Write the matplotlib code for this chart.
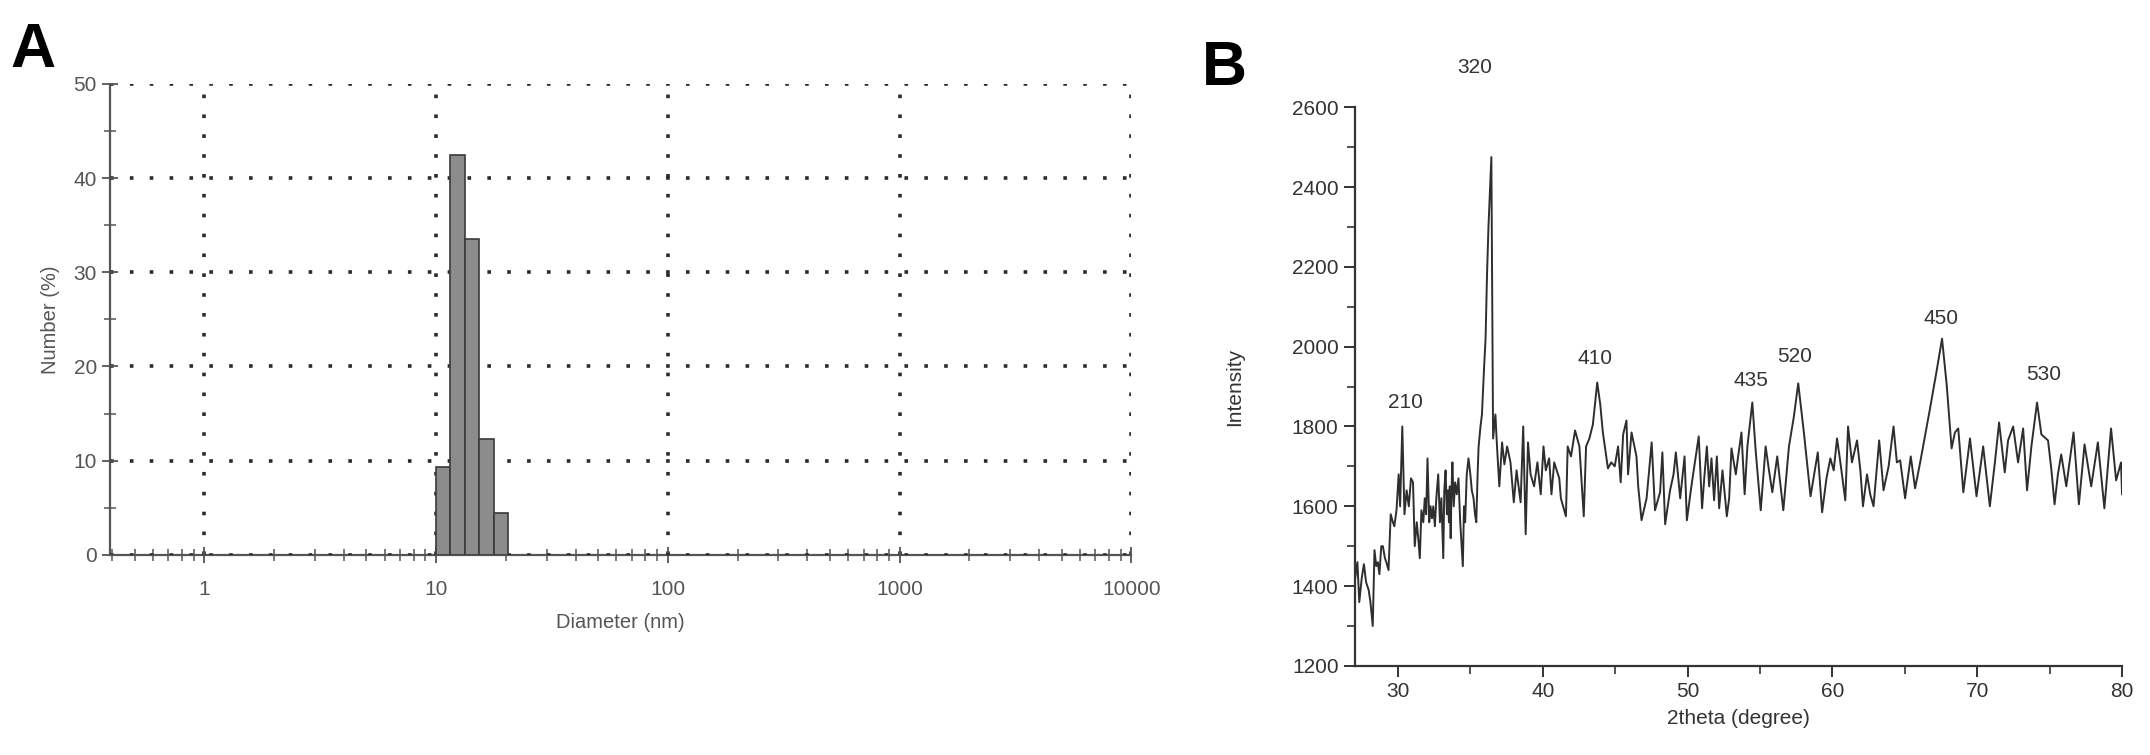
import matplotlib
matplotlib.use('Agg')
import matplotlib.pyplot as plt
from matplotlib.ticker import FixedLocator, NullFormatter, MultipleLocator

plt.rcParams['font.family'] = ['Liberation Sans', 'DejaVu Sans']

# ---- panel A: size distribution ----
bin_edges = [10, 11.5, 13.3, 15.3, 17.7, 20.5]
number_pct = [9.3, 42.4, 33.5, 12.3, 4.4]

# ---- panel B: XRD pattern (vertices) ----
two_theta = [
    27.05, 27.2, 27.33, 27.5, 27.65, 27.8, 27.98, 28.1, 28.26, 28.38,
    28.5, 28.61, 28.72, 28.85, 28.96, 29.1, 29.2, 29.35, 29.5, 29.65,
    29.75, 29.9, 30.05, 30.15, 30.3, 30.45, 30.6, 30.75, 30.9, 31.04,
    31.16, 31.3, 31.4, 31.51, 31.62, 31.75, 31.85, 31.95, 32.04, 32.16,
    32.25, 32.35, 32.44, 32.55, 32.65, 32.78, 32.9, 33.0, 33.13, 33.2,
    33.29, 33.38, 33.45, 33.52, 33.58, 33.64, 33.7, 33.76, 33.85, 33.95,
    34.06, 34.18, 34.3, 34.4, 34.48, 34.56, 34.64, 34.75, 34.87, 35.0,
    35.1, 35.22, 35.32, 35.41, 35.5, 35.57, 35.7, 35.8, 35.95, 36.05,
    36.15, 36.25, 36.35, 36.45, 36.57, 36.73, 36.84, 37.0, 37.19, 37.35,
    37.54, 37.77, 38.0, 38.19, 38.47, 38.65, 38.82, 38.98, 39.16, 39.4,
    39.63, 39.86, 40.05, 40.21, 40.44, 40.6, 40.79, 41.14, 41.25, 41.6,
    41.72, 41.95, 42.23, 42.53, 42.83, 42.99, 43.22, 43.46, 43.76, 43.97,
    44.15, 44.5, 44.73, 44.97, 45.2, 45.38, 45.55, 45.78, 45.89, 46.13,
    46.47, 46.59, 46.82, 47.17, 47.52, 47.75, 48.1, 48.26, 48.45, 48.79,
    49.03, 49.19, 49.49, 49.79, 49.95, 50.3, 50.77, 51.0, 51.15, 51.33,
    51.49, 51.65, 51.83, 52.02, 52.18, 52.41, 52.71, 52.87, 53.03, 53.33,
    53.49, 53.72, 53.94, 54.13, 54.47, 54.7, 55.05, 55.39, 55.62, 55.85,
    56.19, 56.61, 57.0, 57.34, 57.64, 58.03, 58.49, 58.83, 58.99, 59.29,
    59.59, 59.86, 60.09, 60.32, 60.55, 60.89, 61.08, 61.35, 61.7, 61.93,
    62.11, 62.39, 62.61, 62.84, 63.23, 63.53, 63.88, 64.22, 64.45, 64.68,
    65.02, 65.41, 65.71, 66.06, 66.74, 67.2, 67.57, 67.89, 68.23, 68.46,
    68.69, 69.04, 69.5, 69.95, 70.41, 70.87, 71.22, 71.51, 71.9, 72.13,
    72.48, 72.82, 73.17, 73.44, 73.74, 74.13, 74.43, 74.89, 75.11, 75.34,
    75.57, 75.8, 76.15, 76.65, 77.02, 77.41, 77.87, 78.33, 78.78, 79.24,
    79.59, 79.93, 80.0,
]
intensity = [
    1420, 1460, 1360, 1420, 1455, 1410, 1390, 1360, 1300, 1490,
    1450, 1460, 1430, 1500, 1500, 1470, 1460, 1440, 1580, 1560,
    1550, 1590, 1680, 1600, 1800, 1580, 1640, 1600, 1670, 1660,
    1500, 1560, 1520, 1470, 1590, 1560, 1620, 1580, 1720, 1560,
    1600, 1570, 1600, 1550, 1620, 1680, 1560, 1620, 1470, 1640,
    1690, 1580, 1640, 1560, 1650, 1520, 1640, 1710, 1600, 1660,
    1630, 1670, 1560, 1500, 1450, 1600, 1560, 1680, 1720, 1680,
    1640, 1620, 1580, 1560, 1680, 1750, 1800, 1830, 1950, 2020,
    2180, 2300, 2390, 2475, 1770, 1830, 1750, 1650, 1760, 1705,
    1750, 1710, 1610, 1690, 1610, 1800, 1530, 1760, 1680, 1650,
    1710, 1630, 1750, 1690, 1720, 1630, 1710, 1670, 1620, 1575,
    1750, 1725, 1790, 1750, 1575, 1750, 1770, 1805, 1910, 1855,
    1785, 1695, 1710, 1700, 1750, 1660, 1780, 1815, 1680, 1785,
    1725, 1650, 1565, 1620, 1760, 1590, 1635, 1735, 1555, 1640,
    1680, 1735, 1620, 1725, 1565, 1660, 1775, 1595, 1670, 1750,
    1650, 1720, 1615, 1725, 1595, 1690, 1575, 1620, 1745, 1680,
    1725, 1785, 1630, 1750, 1860, 1740, 1590, 1750, 1690, 1635,
    1725, 1590, 1750, 1825, 1908, 1785, 1625, 1700, 1735, 1585,
    1670, 1720, 1690, 1770, 1710, 1615, 1800, 1710, 1765, 1690,
    1600, 1680, 1630, 1600, 1765, 1640, 1700, 1800, 1710, 1715,
    1620, 1725, 1645, 1710, 1845, 1940, 2020, 1905, 1745, 1785,
    1795, 1635, 1770, 1625, 1750, 1600, 1710, 1810, 1685, 1765,
    1800, 1710, 1795, 1640, 1750, 1860, 1780, 1765, 1695, 1605,
    1680, 1730, 1650, 1785, 1605, 1755, 1650, 1760, 1595, 1795,
    1665, 1710, 1630,
]
peak_labels = ['210', '320', '410', '435', '520', '450', '530']
peak_label_x = [30.5, 35.3, 43.6, 54.4, 57.4, 67.5, 74.6]
peak_label_y = [1860, 2700, 1970, 1915, 1975, 2070, 1930]

fig = plt.figure(figsize=(21.5, 7.55), dpi=100)

# ---------------- A ----------------
axA = fig.add_axes([0.0512, 0.265, 0.475, 0.624])
widths = [bin_edges[i + 1] - bin_edges[i] for i in range(len(number_pct))]
axA.bar(bin_edges[:-1], number_pct, width=widths, align='edge',
        color='#8c8c8c', edgecolor='#3a3a3a', linewidth=1.2, zorder=3)
axA.set_xscale('log')
axA.set_xlim(0.392, 10000)
axA.set_ylim(0, 50)
axA.set_xticks([1, 10, 100, 1000, 10000])
axA.set_xticklabels(['1', '10', '100', '1000', '10000'])
minors = [m * 10 ** d for d in range(-1, 4) for m in range(2, 10)]
axA.xaxis.set_minor_locator(FixedLocator([v for v in minors if 0.392 < v < 10000]))
axA.xaxis.set_minor_formatter(NullFormatter())
axA.set_yticks([0, 10, 20, 30, 40, 50])
axA.yaxis.set_minor_locator(MultipleLocator(5))
axA.grid(True, which='major', color='#2a2a2a', linestyle=(0, (1, 4.5)), linewidth=2.6)
axA.set_axisbelow(False)
for s in ['top', 'right']:
    axA.spines[s].set_visible(False)
for s in ['left', 'bottom']:
    axA.spines[s].set_color('#555555')
    axA.spines[s].set_linewidth(1.6)
axA.tick_params(which='major', direction='inout', length=12, width=1.3,
                color='#555555', labelcolor='#555555', labelsize=15)
axA.tick_params(which='minor', direction='inout', length=9, width=1.1, color='#555555')
axA.tick_params(axis='x', pad=12)
axA.set_xlabel('Diameter (nm)', fontsize=14.5, color='#555555', labelpad=10)
axA.set_ylabel('Number (%)', fontsize=14.5, color='#555555', labelpad=10)
fig.text(0.005, 0.972, 'A', fontsize=45, fontweight='bold', va='top', ha='left')

# ---------------- B ----------------
axB = fig.add_axes([0.63, 0.118, 0.357, 0.74])
axB.plot(two_theta, intensity, color='#2e2e2e', linewidth=1.4)
axB.set_xlim(27, 80)
axB.set_ylim(1200, 2600)
axB.xaxis.set_major_locator(MultipleLocator(10))
axB.xaxis.set_minor_locator(MultipleLocator(5))
axB.yaxis.set_major_locator(MultipleLocator(200))
axB.yaxis.set_minor_locator(MultipleLocator(100))
for s in ['top', 'right']:
    axB.spines[s].set_visible(False)
for s in ['left', 'bottom']:
    axB.spines[s].set_color('#333333')
    axB.spines[s].set_linewidth(1.6)
axB.tick_params(which='major', direction='out', length=8, width=1.4,
                color='#333333', labelcolor='#333333', labelsize=15)
axB.tick_params(which='minor', direction='out', length=6, width=1.2, color='#333333')
axB.set_xlabel('2theta (degree)', fontsize=15, color='#333333', labelpad=6)
axB.set_ylabel('Intensity', fontsize=15, color='#333333', labelpad=34)
for lab, px, py in zip(peak_labels, peak_label_x, peak_label_y):
    axB.text(px, py, lab, fontsize=15, color='#333333', ha='center', va='center',
             clip_on=False)
fig.text(0.559, 0.948, 'B', fontsize=45, fontweight='bold', va='top', ha='left')

fig.savefig('out.png', dpi=100)
